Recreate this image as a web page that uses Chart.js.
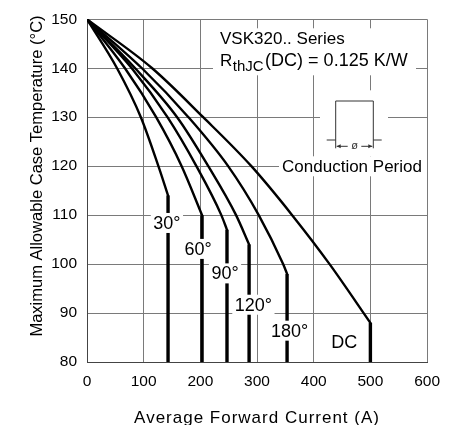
<!DOCTYPE html>
<html>
<head>
<meta charset="utf-8">
<script src="https://cdn.jsdelivr.net/npm/chart.js@4.4.1/dist/chart.umd.min.js"></script>
<style>
html,body{margin:0;padding:0;background:#fff}
#wrap{width:450px;height:425px}
</style>
</head>
<body>
<div id="wrap"><canvas id="chart"></canvas></div>
<script>
/* ===== DATA ===== */
const currentTicks = [0,100,200,300,400,500,600];
const tempTicks = [80,90,100,110,120,130,140,150];

const seriesNames = ["30°","60°","90°","120°","180°","DC"];

const current30 = [0,53,95,126,143];
const temp30    = [150,140,130,120,114];
const current60 = [0,67,122,167,203];
const temp60    = [150,140,130,120,110];
const current90 = [0,79,142,193,237,247];
const temp90    = [150,140,130,120,110,107];
const current120 = [0,85,159,214,263,286];
const temp120    = [150,140,130,120,110,104];
const current180 = [0,97,179,249,303,346,353];
const temp180    = [150,140,130,120,110,100,98];
const currentDC = [0,115,205,290,362,428,500];
const tempDC    = [150,140,130,120,110,100,88];

/* where the curve labels sit (A, °C) */
const labelCurrent = [141,196,243.5,293.6,357.4,454];
const labelTemp    = [108.4,103.1,98.1,91.7,86.4,84.1];

const FONT = '"Liberation Sans", Arial, sans-serif';
const GRID = "#7a7a7a";

const curves = [
  [current30,temp30],[current60,temp60],[current90,temp90],
  [current120,temp120],[current180,temp180],[currentDC,tempDC]
];

const pts = (xs,ys)=>xs.map((v,i)=>({x:v,y:ys[i]}));

const datasets = [];
curves.forEach(([xs,ys],i)=>{
  const n = xs.length-1;
  // curved part
  datasets.push({
    label:seriesNames[i],
    data:pts(xs,ys),
    showLine:true,
    borderColor:"#000",
    borderWidth:2.4,
    cubicInterpolationMode:"monotone",
    borderCapStyle:"round",
    pointRadius:0
  });
  // vertical drop down to the axis
  datasets.push({
    label:seriesNames[i]+" limit",
    data:[{x:xs[n],y:ys[n]},{x:xs[n],y:tempTicks[0]}],
    showLine:true,
    borderColor:"#000",
    borderWidth:3.4,
    pointRadius:0
  });
});

/* ===== TEXT / ANNOTATIONS ===== */
function whiteBox(ctx,x,y,w,h){
  ctx.fillStyle="#fff";
  ctx.fillRect(x,y,w,h);
}

const overlay = {
  id:"overlay",
  afterDatasetsDraw(chart){
    const {ctx, chartArea:a, scales:{x,y}} = chart;
    const L = a.left, T = a.top;
    ctx.save();

    // curve labels
    ctx.font = "18px "+FONT;
    ctx.textAlign = "center";
    ctx.textBaseline = "middle";
    seriesNames.forEach((t,i)=>{
      const px = x.getPixelForValue(labelCurrent[i]);
      const py = y.getPixelForValue(labelTemp[i]);
      const w = ctx.measureText(t).width+5;
      whiteBox(ctx,px-w/2,py-10,w,20);
      ctx.fillStyle="#000";
      ctx.fillText(t,px,py+1);
    });

    // series / Rth text
    whiteBox(ctx,L+126,T+9,203,47);
    ctx.fillStyle="#000";
    ctx.textAlign="left";
    ctx.textBaseline="alphabetic";
    ctx.font="17px "+FONT;
    ctx.fillText("VSK320.. Series",L+133,T+25);
    ctx.fillText("R",L+133,T+47);
    let cx = L+133+ctx.measureText("R").width+0.5;
    ctx.font="15px "+FONT;
    ctx.fillText("thJC",cx,T+52);
    cx += ctx.measureText("thJC").width+1.5;
    ctx.font="18px "+FONT;
    ctx.fillText("(DC) = 0.125 K/W",cx,T+47);

    // conduction period sketch
    whiteBox(ctx,L+233,T+71,68,66);
    const x1=L+248.7, x2=L+286.3, yt=T+81.7, yb=T+120.7, ya=T+127;
    ctx.strokeStyle="#333";
    ctx.lineWidth=1;
    ctx.beginPath();
    ctx.moveTo(x1-9,yb); ctx.lineTo(x1,yb);
    ctx.moveTo(x2,yb); ctx.lineTo(x2+8.4,yb);
    ctx.moveTo(x1,T+129); ctx.lineTo(x1,yt); ctx.lineTo(x2,yt); ctx.lineTo(x2,T+129);
    ctx.moveTo(x1+1,ya); ctx.lineTo(x1+12,ya);
    ctx.moveTo(x2-12,ya); ctx.lineTo(x2-1,ya);
    ctx.stroke();
    ctx.fillStyle="#333";
    ctx.beginPath();
    ctx.moveTo(x1+1,ya); ctx.lineTo(x1+5,ya-2); ctx.lineTo(x1+5,ya+2); ctx.closePath();
    ctx.moveTo(x2-1,ya); ctx.lineTo(x2-5,ya-2); ctx.lineTo(x2-5,ya+2); ctx.closePath();
    ctx.fill();
    ctx.font="11px "+FONT;
    ctx.textAlign="center";
    ctx.textBaseline="middle";
    ctx.fillText("ø",(x1+x2)/2,ya);

    whiteBox(ctx,L+192,T+137,148,20);
    ctx.fillStyle="#000";
    ctx.font="17px "+FONT;
    ctx.fillText("Conduction Period",L+265,T+148);

    // axis titles
    ctx.font="17px "+FONT;
    ctx.letterSpacing="1px";
    ctx.fillText("Average Forward Current (A)",(a.left+a.right)/2,418);
    ctx.letterSpacing="0px";
    ctx.font="16.5px "+FONT;
    ctx.translate(37,176);
    ctx.rotate(-Math.PI/2);
    ctx.fillText("Maximum Allowable Case Temperature (°C)",0,0);
    ctx.restore();
  }
};

/* ===== CHART ===== */
new Chart(document.getElementById("chart"),{
  type:"scatter",
  data:{datasets},
  options:{
    responsive:true,
    maintainAspectRatio:false,
    animation:false,
    events:[],
    layout:{padding:{top:16,right:18,left:0,bottom:0}},
    plugins:{legend:{display:false},tooltip:{enabled:false}},
    scales:{
      x:{
        type:"linear",
        min:currentTicks[0],
        max:currentTicks[currentTicks.length-1],
        afterFit:(s)=>{s.height=63;},
        afterBuildTicks:(s)=>{s.ticks=currentTicks.map(v=>({value:v}));},
        grid:{color:GRID,lineWidth:1,drawTicks:false},
        border:{color:"#444",width:1},
        ticks:{color:"#000",padding:10,font:{family:FONT,size:15.5}}
      },
      y:{
        type:"linear",
        min:tempTicks[0],
        max:tempTicks[tempTicks.length-1],
        afterFit:(s)=>{s.width=87;},
        afterBuildTicks:(s)=>{s.ticks=tempTicks.map(v=>({value:v}));},
        grid:{color:GRID,lineWidth:1,drawTicks:false},
        border:{color:"#444",width:1},
        ticks:{color:"#000",padding:10,font:{family:FONT,size:15.5}}
      }
    }
  },
  plugins:[overlay]
});
</script>
</body>
</html>
